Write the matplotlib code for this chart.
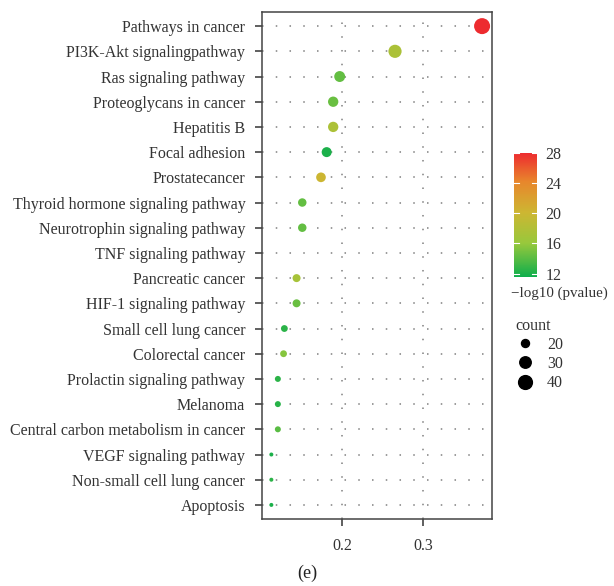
import numpy as np
import matplotlib
matplotlib.use("Agg")
import matplotlib.pyplot as plt
from matplotlib.colors import LinearSegmentedColormap, Normalize
from matplotlib.lines import Line2D

plt.rcParams['font.family'] = ['Liberation Serif', 'DejaVu Serif']

# KEGG pathways, top to bottom as in the figure
pathways = ['Pathways in cancer', 'PI3K-Akt signalingpathway', 'Ras signaling pathway',
            'Proteoglycans in cancer', 'Hepatitis B', 'Focal adhesion', 'Prostatecancer',
            'Thyroid hormone signaling pathway', 'Neurotrophin signaling pathway',
            'TNF signaling pathway', 'Pancreatic cancer', 'HIF-1 signaling pathway',
            'Small cell lung cancer', 'Colorectal cancer', 'Prolactin signaling pathway',
            'Melanoma', 'Central carbon metabolism in cancer', 'VEGF signaling pathway',
            'Non-small cell lung cancer', 'Apoptosis']
gene_ratio = [0.372, 0.265, 0.197, 0.189, 0.189, 0.181, 0.174, 0.151, 0.151, np.nan,
              0.144, 0.144, 0.129, 0.128, 0.121, 0.121, 0.121, 0.113, 0.113, 0.113]
count = [52, 37, 28, 26, 26, 25, 24, 21, 21, np.nan,
         20, 20, 18, 18, 17, 17, 17, 16, 16, 16]
logp = [28, 17.5, 14.3, 14.5, 17.6, 12, 20, 14.3, 14.3, np.nan,
        17.2, 14.5, 12.5, 15.5, 12.5, 12.4, 14, 12, 12.5, 12]
legend_counts = [20, 30, 40]
cbar_ticks = [12, 16, 20, 24, 28]

cmap = LinearSegmentedColormap.from_list(
    'gr', [(0.0, '#0fae4b'), (0.27, '#98c83c'), (0.52, '#cdb632'),
           (0.77, '#e8862c'), (1.0, '#ed2b2f')])
norm = Normalize(vmin=11.6, vmax=28)

cmin, cmax = 16, 52
fs = 11.5


def dot_area(c):
    # ggplot-like area scale: diameter from 4 px to 16 px
    c = np.asarray(c, dtype=float)
    d = 4 + 12 * np.sqrt(np.clip((c - cmin) / (cmax - cmin), 0, 1))
    return (d * 0.72) ** 2


fig = plt.figure(figsize=(6.14, 5.86), dpi=100)
ax = fig.add_axes([0.4267, 0.1143, 0.3746, 0.8652])

n = len(pathways)
ypos = np.arange(n)[::-1]

grid_kw = dict(color='#808080', lw=1.1, ls=(0, (1, 8)), zorder=0)
for y in ypos:
    ax.axhline(y, **grid_kw)
for x in [0.2, 0.3]:
    ax.axvline(x, **grid_kw)

ax.scatter(gene_ratio, ypos, s=dot_area(count), c=logp, cmap=cmap, norm=norm,
           edgecolors='none', zorder=3)

ax.set_xlim(0.1015, 0.3842)
ax.set_ylim(-0.56, n - 1 + 0.56)
ax.set_yticks(ypos)
ax.set_yticklabels(pathways, fontsize=fs, color='#333333')
ax.set_xticks([0.2, 0.3])
ax.set_xticklabels(['0.2', '0.3'], fontsize=fs, color='#333333')
ax.tick_params(axis='both', length=5, width=1.2, color='#444444', pad=7)
ax.tick_params(axis='x', pad=9)
for sp in ax.spines.values():
    sp.set_color('#444444')
    sp.set_linewidth(1.1)

# colour bar
cax = fig.add_axes([0.837, 0.528, 0.0375, 0.211])
cb = fig.colorbar(plt.cm.ScalarMappable(norm=norm, cmap=cmap), cax=cax, ticks=cbar_ticks)
cb.outline.set_visible(False)
cax.tick_params(length=0, labelsize=fs, pad=6, labelcolor='#333333')
for t in cbar_ticks:
    cax.axhline(t, xmin=0, xmax=0.2, color='white', lw=0.8)
    cax.axhline(t, xmin=0.8, xmax=1, color='white', lw=0.8)
fig.text(0.833, 0.5, '\u2212log10 (pvalue)', fontsize=10.8, color='#333333', va='center')

# size legend
handles = [Line2D([], [], ls='none', marker='o', color='black',
                  markersize=np.sqrt(dot_area(c))) for c in legend_counts]
leg = fig.legend(handles, [str(c) for c in legend_counts], title='count',
                 loc='upper left', bbox_to_anchor=(0.84, 0.458), frameon=False,
                 fontsize=fs, title_fontsize=fs, alignment='left',
                 handlelength=1.2, handletextpad=0.75, labelspacing=0.2, borderaxespad=0,
                 borderpad=0)
for t in leg.get_texts():
    t.set_color('#333333')
leg.get_title().set_color('#333333')

fig.text(0.5, 0.006, '(e)', fontsize=13, ha='center', va='bottom', color='#222222')

fig.savefig('out.png', dpi=100)
